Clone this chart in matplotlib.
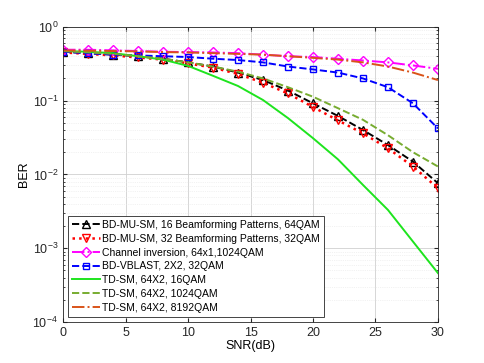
import numpy as np
import matplotlib
matplotlib.use("Agg")
import matplotlib.pyplot as plt

plt.rcParams["font.family"] = ["Liberation Sans", "DejaVu Sans"]
plt.rcParams["mathtext.fontset"] = "custom"
plt.rcParams["mathtext.rm"] = "Liberation Sans"

snr = [0, 2, 4, 6, 8, 10, 12, 14, 16, 18, 20, 22, 24, 26, 28, 30]

mu_sm_16 = [0.46, 0.44, 0.42, 0.40, 0.37, 0.33, 0.29, 0.24, 0.19, 0.137, 0.092, 0.062, 0.040, 0.025, 0.0149, 0.0076]
mu_sm_32 = [0.45, 0.43, 0.41, 0.385, 0.36, 0.32, 0.28, 0.23, 0.175, 0.125, 0.082, 0.054, 0.036, 0.0226, 0.0128, 0.0065]
ch_inv = [0.49, 0.49, 0.48, 0.47, 0.46, 0.455, 0.45, 0.44, 0.42, 0.40, 0.39, 0.37, 0.35, 0.33, 0.30, 0.27]
vblast = [0.46, 0.44, 0.42, 0.41, 0.40, 0.39, 0.37, 0.355, 0.33, 0.29, 0.265, 0.24, 0.20, 0.152, 0.092, 0.042]
td_16 = [0.47, 0.46, 0.44, 0.40, 0.36, 0.296, 0.217, 0.158, 0.102, 0.058, 0.031, 0.016, 0.0072, 0.0033, 0.00123, 0.00046]
td_1024 = [0.47, 0.45, 0.43, 0.40, 0.37, 0.33, 0.29, 0.247, 0.20, 0.152, 0.113, 0.079, 0.055, 0.034, 0.020, 0.0128]
td_8192 = [0.48, 0.475, 0.47, 0.465, 0.455, 0.45, 0.44, 0.43, 0.42, 0.40, 0.38, 0.36, 0.33, 0.29, 0.24, 0.19]

labels = [
    "BD-MU-SM, 16 Beamforming Patterns, 64QAM",
    "BD-MU-SM, 32 Beamforming Patterns, 32QAM",
    "Channel inversion, 64x1,1024QAM",
    "BD-VBLAST, 2X2, 32QAM",
    "TD-SM, 64X2, 16QAM",
    "TD-SM, 64X2, 1024QAM",
    "TD-SM, 64X2, 8192QAM",
]

fig = plt.figure(figsize=(4.85, 3.63), dpi=100)
ax = fig.add_axes([0.13, 0.113, 0.773, 0.813])

ax.semilogy(snr, mu_sm_16, "k--", marker="^", mfc="none", ms=6, lw=1.4, label=labels[0])
ax.semilogy(snr, mu_sm_32, color="red", ls=":", marker="v", mfc="none", ms=6, lw=1.8, label=labels[1])
ax.semilogy(snr, ch_inv, color="magenta", ls="-.", marker="D", mfc="none", ms=5, lw=1.4, label=labels[2])
ax.semilogy(snr, vblast, color="blue", ls="--", marker="s", mfc="none", ms=4.5, lw=1.4, label=labels[3])
ax.semilogy(snr, td_16, color="#1ee41e", ls="-", lw=1.4, label=labels[4])
ax.semilogy(snr, td_1024, color="#77ac30", ls="--", lw=1.4, label=labels[5])
ax.semilogy(snr, td_8192, color="#d95319", ls="-.", lw=1.4, label=labels[6])

ax.set_xlim(0, 30)
ax.set_ylim(1e-4, 1)
ax.set_xticks([0, 5, 10, 15, 20, 25, 30])
ax.set_xlabel("SNR(dB)", fontsize=9, labelpad=1)
ax.set_ylabel("BER", fontsize=9, labelpad=2)

ax.grid(True, which="major", color="#d0d0d0", lw=0.6)
ax.grid(True, which="minor", axis="y", color="#e6e6e6", lw=0.5, ls=":")
ax.tick_params(which="both", direction="in", top=True, right=True, labelsize=9, colors="#262626")
ax.tick_params(which="major", length=3)
ax.tick_params(which="minor", length=1.5)
for sp in ax.spines.values():
    sp.set_color("#262626")
    sp.set_linewidth(0.6)

leg = ax.legend(loc="lower left", fontsize=7.5, handlelength=2.6, borderpad=0.4,
                labelspacing=0.36, handletextpad=0.25, borderaxespad=0.5,
                fancybox=False, framealpha=1)
leg.get_frame().set_edgecolor("#262626")
leg.get_frame().set_linewidth(0.6)

fig.savefig("out.png", dpi=100)
